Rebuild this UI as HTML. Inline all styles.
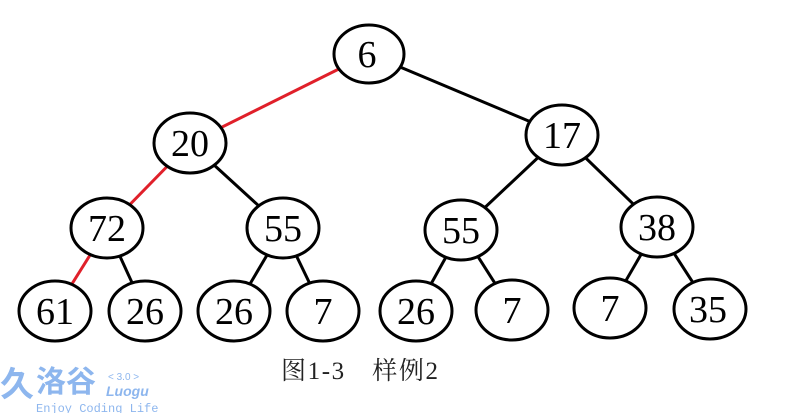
<!DOCTYPE html>
<html><head><meta charset="utf-8"><style>
html,body{margin:0;padding:0;background:#fff;width:800px;height:413px;overflow:hidden}
</style></head><body>
<svg width="800" height="413" viewBox="0 0 800 413" xmlns="http://www.w3.org/2000/svg">
<g stroke-width="3" fill="none">
<line x1="369" y1="54" x2="190" y2="143" stroke="#e0202a"/>
<line x1="190" y1="143" x2="107" y2="228" stroke="#e0202a"/>
<line x1="107" y1="228" x2="55" y2="311" stroke="#e0202a"/>
<g stroke="#000">
<line x1="369" y1="54" x2="562" y2="135"/>
<line x1="190" y1="143" x2="283" y2="228"/>
<line x1="107" y1="228" x2="145" y2="311"/>
<line x1="283" y1="228" x2="234" y2="311"/>
<line x1="283" y1="228" x2="323" y2="311"/>
<line x1="562" y1="135" x2="461" y2="230"/>
<line x1="562" y1="135" x2="657" y2="227"/>
<line x1="461" y1="230" x2="416" y2="311"/>
<line x1="461" y1="230" x2="512" y2="310"/>
<line x1="657" y1="227" x2="610" y2="308"/>
<line x1="657" y1="227" x2="710" y2="309"/>
</g></g>
<g fill="#fff" stroke="#000" stroke-width="3">
<ellipse cx="369" cy="54" rx="35" ry="29"/>
<ellipse cx="190" cy="143" rx="36" ry="30"/>
<ellipse cx="562" cy="135" rx="36" ry="30"/>
<ellipse cx="107" cy="228" rx="36" ry="30"/>
<ellipse cx="283" cy="228" rx="36" ry="30"/>
<ellipse cx="461" cy="230" rx="36" ry="30"/>
<ellipse cx="657" cy="227" rx="36" ry="30"/>
<ellipse cx="55" cy="311" rx="36" ry="30"/>
<ellipse cx="145" cy="311" rx="36" ry="30"/>
<ellipse cx="234" cy="311" rx="36" ry="30"/>
<ellipse cx="323" cy="311" rx="36" ry="30"/>
<ellipse cx="416" cy="311" rx="36" ry="30"/>
<ellipse cx="512" cy="310" rx="36" ry="30"/>
<ellipse cx="610" cy="308" rx="36" ry="30"/>
<ellipse cx="710" cy="309" rx="36" ry="30"/>
</g>
<g font-family="Liberation Serif, serif" font-size="38" text-anchor="middle" fill="#000">
<text x="367" y="67">6</text>
<text x="190" y="156">20</text>
<text x="562" y="148">17</text>
<text x="107" y="241">72</text>
<text x="283" y="241">55</text>
<text x="461" y="243">55</text>
<text x="657" y="240">38</text>
<text x="55" y="324">61</text>
<text x="145" y="324">26</text>
<text x="234" y="324">26</text>
<text x="323" y="324">7</text>
<text x="416" y="324">26</text>
<text x="512" y="323">7</text>
<text x="610" y="321">7</text>
<text x="708" y="322">35</text>
</g>
<text x="281" y="379" font-family="Liberation Serif, 'Noto Serif CJK SC', serif" font-size="25" fill="#222" textLength="157">图1-3　样例2</text>
<g fill="#8db6ee" font-family="Liberation Sans, 'Noto Sans CJK SC', sans-serif">
<text x="0" y="396" font-size="34" font-weight="bold">久</text>
<text x="36" y="392" font-size="30" font-weight="bold">洛谷</text>
<text x="108" y="380" font-size="10">&lt; 3.0 &gt;</text>
<text x="106" y="396" font-size="14" font-style="italic" font-weight="bold">Luogu</text>
<text x="36" y="412" font-family="Liberation Mono, monospace" font-size="12">Enjoy Coding Life</text>
</g>
</svg>
</body></html>
